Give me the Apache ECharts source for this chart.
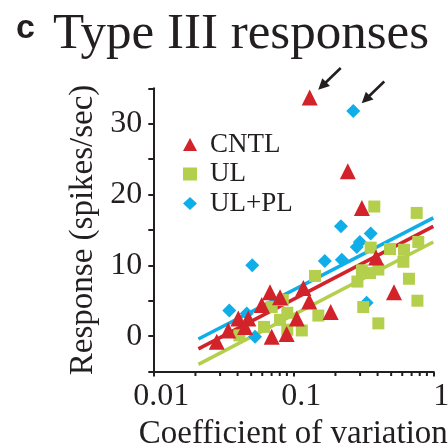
<!DOCTYPE html>
<html>
<head>
<meta charset="utf-8">
<script src="https://cdn.jsdelivr.net/npm/echarts@6/dist/echarts.min.js"></script>
<style>
html,body{margin:0;padding:0;background:#fff;}
#chart{width:448px;height:448px;}
</style>
</head>
<body>
<div id="chart"></div>
<script>
// ---- data ----
const cntl = [
  [0.131, 33.7], [0.245, 23.3], [0.309, 18.1], [0.390, 11.1], [0.118, 6.8],
  [0.130, 4.9], [0.524, 6.2], [0.185, 3.4], [0.0284, -0.8], [0.0343, 0.8],
  [0.0405, 2.5], [0.0477, 2.5], [0.0452, 1.3], [0.0595, 4.4], [0.0682, 6.2],
  [0.0804, 5.5], [0.0701, -0.1], [0.0896, 0.3], [0.106, 2.5]
];
const ul = [
  [0.379, 18.3], [0.761, 17.4], [0.357, 12.5], [0.491, 12.3], [0.618, 12.2],
  [0.781, 13.3], [0.611, 10.5], [0.309, 9.3], [0.405, 9.4], [0.143, 8.5],
  [0.287, 7.7], [0.670, 8.1], [0.316, 4.1], [0.770, 5.0], [0.151, 2.9],
  [0.405, 1.8], [0.115, 0.8], [0.0412, 0.1], [0.0618, 1.3], [0.0701, 4.1],
  [0.0841, 5.1], [0.0804, 2.3], [0.0906, 3.3], [0.0906, 0.9], [0.353, 8.9]
];
const ulpl = [
  [0.268, 31.8], [0.219, 15.5], [0.357, 14.5], [0.299, 13.3], [0.284, 12.6],
  [0.168, 10.6], [0.222, 10.8], [0.334, 4.7], [0.0509, 10.0], [0.0349, 3.6],
  [0.0465, 3.2], [0.0533, -0.1]
];
// regression lines (end points)
const fitX = [0.021, 1];
const cntlFit = [-1.8, 15.5];
const ulFit = [-4.0, 13.3];
const ulplFit = [-0.4, 16.7];
// axis ticks
const xTickLabels = ['0.01', '0.1', '1'];
const yTickLabels = [0, 10, 20, 30];
const xMinorTicks = [0.02,0.03,0.04,0.05,0.06,0.07,0.08,0.09,0.2,0.3,0.4,0.5,0.6,0.7,0.8,0.9];
// points marked with arrows: [series data, index]
const arrowTargets = [[cntl, 0], [ulpl, 0]];

const RED = '#d2232a', GREEN = '#b3cf4b', BLUE = '#0faee9', INK = '#231f20';
const SERIF = "'Liberation Serif','Times New Roman',serif";

const chart = echarts.init(document.getElementById('chart'), null, {renderer: 'canvas'});

function fitData(ys){ return fitX.map((x, i) => [x, ys[i]]); }

const option = {
  animation: false,
  backgroundColor: '#fff',
  title: [
    {text: 'c', left: 11, top: 7, textStyle: {fontFamily: "'Liberation Sans',Arial,sans-serif", fontWeight: 'bold', fontSize: 34, color: INK}},
    {text: 'Type III responses', left: 48, top: 4, textStyle: {fontFamily: SERIF, fontWeight: 'normal', fontSize: 51, color: INK}}
  ],
  legend: {
    orient: 'vertical', left: 178, top: 126, itemWidth: 14, itemHeight: 13, itemGap: 2.5,
    selectedMode: false,
    textStyle: {fontFamily: SERIF, fontSize: 27, color: INK, padding: [0,0,0,8]},
    data: [
      {name: 'CNTL', icon: 'triangle'},
      {name: 'UL', icon: 'rect'},
      {name: 'UL+PL', icon: 'diamond'}
    ]
  },
  grid: {left: 153.3, right: 14.7, top: 88.3, bottom: 76.5, containLabel: false, outerBoundsMode: 'none'},
  xAxis: {
    type: 'log', logBase: 10, min: 0.01, max: 1,
    name: 'Coefficient of variation', nameLocation: 'middle', nameGap: 44,
    nameTextStyle: {fontFamily: SERIF, fontSize: 33, color: INK},
    axisLine: {onZero: false, lineStyle: {color: INK, width: 2}},
    axisTick: {show: true, length: 5, lineStyle: {color: INK, width: 2}},
    axisLabel: {
      fontFamily: SERIF, fontSize: 32, color: INK, margin: 9, padding: [0,0,0,16],
      formatter: v => { const s = String(+(+v).toPrecision(3)); return xTickLabels.indexOf(s) >= 0 ? s : ''; }
    },
    splitLine: {show: false}
  },
  yAxis: {
    type: 'value', min: -5, max: 35, interval: 5,
    name: 'Response (spikes/sec)', nameLocation: 'middle', nameGap: 51,
    nameTextStyle: {fontFamily: SERIF, fontSize: 33, color: INK},
    axisLine: {show: true, onZero: false, lineStyle: {color: INK, width: 2}},
    axisTick: {show: true, length: 5, lineStyle: {color: INK, width: 2}},
    axisLabel: {
      fontFamily: SERIF, fontSize: 32, color: INK, margin: 11,
      formatter: v => yTickLabels.indexOf(v) >= 0 ? String(v) : ''
    },
    splitLine: {show: false}
  },
  series: [
    {name: 'CNTL fit', type: 'line', data: fitData(cntlFit), symbol: 'none', lineStyle: {color: RED, width: 3.5}, z: 1, silent: true},
    {name: 'UL fit', type: 'line', data: fitData(ulFit), symbol: 'none', lineStyle: {color: GREEN, width: 3.5}, z: 1, silent: true},
    {name: 'UL+PL fit', type: 'line', data: fitData(ulplFit), symbol: 'none', lineStyle: {color: BLUE, width: 3.5}, z: 1, silent: true},
    {name: 'UL+PL', type: 'scatter', data: ulpl, symbol: 'diamond', symbolSize: 14, itemStyle: {color: BLUE, opacity: 1}, z: 3},
    {name: 'UL', type: 'scatter', data: ul, symbol: 'rect', symbolSize: 12, itemStyle: {color: GREEN, opacity: 1}, z: 3},
    {name: 'CNTL', type: 'scatter', data: cntl, symbol: 'triangle', symbolSize: 16, itemStyle: {color: RED, opacity: 1}, z: 4},
    {
      name: 'minor ticks', type: 'custom', silent: true, clip: false, z: 5,
      data: xMinorTicks.map(v => [v, -5]),
      renderItem: (params, api) => {
        const p = api.coord([api.value(0), api.value(1)]);
        return {type: 'line', shape: {x1: p[0], y1: p[1], x2: p[0], y2: p[1] + 4.5},
                style: {stroke: INK, lineWidth: 2}};
      }
    }
  ]
};
chart.setOption(option);

// arrows pointing at the marked points
function arrowGraphic(tip, tail){
  const dx = tip[0] - tail[0], dy = tip[1] - tail[1];
  const len = Math.sqrt(dx*dx + dy*dy), ux = dx/len, uy = dy/len;
  const headLen = 11, headW = 5.5;
  const bx = tip[0] - ux*headLen, by = tip[1] - uy*headLen;
  return [
    {type: 'line', shape: {x1: tail[0], y1: tail[1], x2: bx + ux*2, y2: by + uy*2}, style: {stroke: INK, lineWidth: 2.6}, z: 10},
    {type: 'polygon', shape: {points: [[tip[0], tip[1]], [bx - uy*headW, by + ux*headW], [bx + uy*headW, by - ux*headW]]}, style: {fill: INK}, z: 10}
  ];
}
const graphics = [];
arrowTargets.forEach(([arr, i]) => {
  const p = chart.convertToPixel({gridIndex: 0}, arr[i]);
  const tip = [p[0] + 8.5, p[1] - 7.7];
  const tail = [p[0] + 31, p[1] - 29.5];
  graphics.push(...arrowGraphic(tip, tail));
});
chart.setOption({graphic: graphics});
</script>
</body>
</html>
